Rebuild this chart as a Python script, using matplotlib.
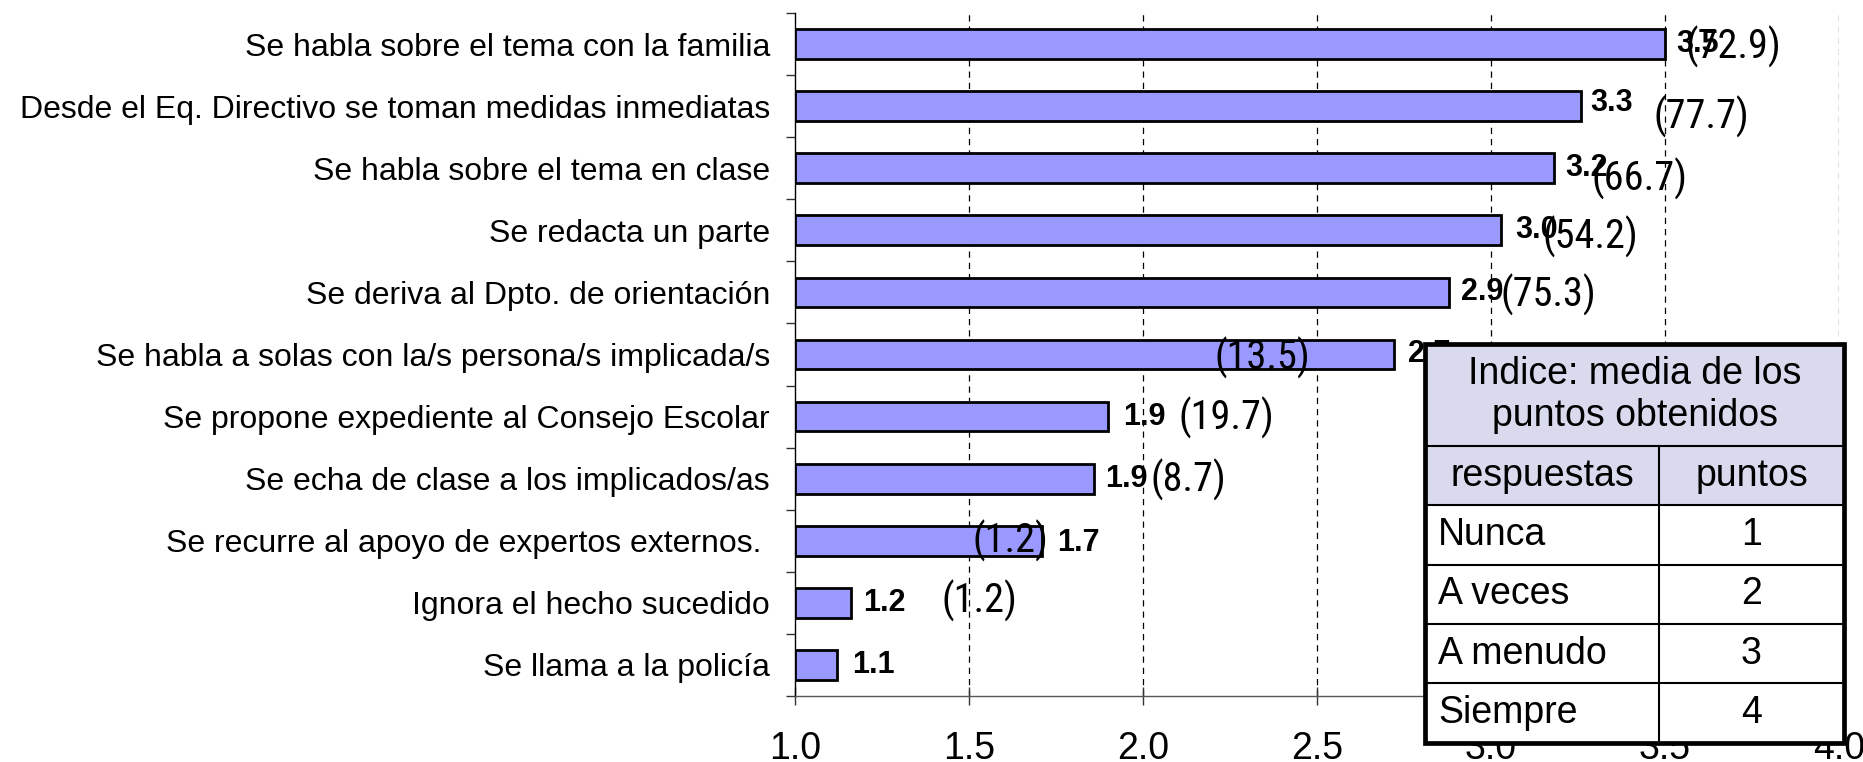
import matplotlib
matplotlib.use("Agg")
import matplotlib.pyplot as plt
from matplotlib import font_manager
from matplotlib.patches import Rectangle
from matplotlib.lines import Line2D

# ---------------- data ----------------
categories = [
    "Se habla sobre el tema con la familia",
    "Desde el Eq. Directivo se toman medidas inmediatas",
    "Se habla sobre el tema en clase",
    "Se redacta un parte",
    "Se deriva al Dpto. de orientación",
    "Se habla a solas con la/s persona/s implicada/s",
    "Se propone expediente al Consejo Escolar",
    "Se echa de clase a los implicados/as",
    "Se recurre al apoyo de expertos externos. ",
    "Ignora el hecho sucedido",
    "Se llama a la policía",
]
index_values = [3.50, 3.26, 3.18, 3.03, 2.88, 2.72, 1.90, 1.86, 1.71, 1.16, 1.12]
percent_values = [72.9, 77.7, 66.7, 54.2, 75.3, 13.5, 19.7, 8.7, 1.2, 1.2, None]
x_ticks = [1.0, 1.5, 2.0, 2.5, 3.0, 3.5, 4.0]

table_title = "Indice: media de los\npuntos obtenidos"
table_columns = ["respuestas", "puntos"]
respuestas = ["Nunca", "A veces", "A menudo", "Siempre"]
puntos = [1, 2, 3, 4]

# ---------------- label placement (layout, not data) ----------------
value_label_x = [3.532, 3.284, 3.213, 3.069, 2.915, 2.761, 1.942, 1.891, 1.754, 1.195, 1.164]
value_label_dy = [0.0, -0.05, 0.0, 0.0, 0.0, 0.0, 0.0, 0.0, 0.03, 0.0, 0.0]
pct_label_x = [3.560, 3.468, 3.290, 3.147, 3.028, 2.205, 2.103, 2.021, 1.509, 1.422, None]
pct_label_dy = [0.05, 0.175, 0.17, 0.10, 0.04, 0.06, 0.02, 0.02, 0.0, -0.03, 0.0]

# ---------------- fonts ----------------
available = {f.name for f in font_manager.fontManager.ttflist}
REG = "Liberation Sans" if "Liberation Sans" in available else "DejaVu Sans"
if "Roboto Condensed" in available:
    NARROW, NARROW_SIZE = "Roboto Condensed", 29
else:
    NARROW, NARROW_SIZE = REG, 27

W, H = 1863, 762
fig = plt.figure(figsize=(W / 100, H / 100), dpi=100)
ax = fig.add_axes([795 / W, 1 - 696 / H, (1839 - 795) / W, (696 - 13) / H])

n = len(categories)
ypos = list(range(n))
x0 = x_ticks[0]
ax.barh(ypos, [v - x0 for v in index_values], left=x0, height=0.48,
        color="#9999FF", edgecolor="black", linewidth=2, zorder=3)

ax.set_xlim(x_ticks[0], x_ticks[-1])
ax.set_ylim(n - 0.5, -0.5)

for xv in x_ticks[1:]:
    ax.axvline(xv, color="black", linewidth=0.9, dashes=(5, 4), zorder=1)

ax.set_xticks(x_ticks)
ax.set_xticklabels([f"{t:.1f}" for t in x_ticks], fontsize=27, family=REG)
ax.tick_params(axis="x", direction="inout", length=13, width=1, color="#333333", pad=19)

ax.set_yticks(ypos)
ax.set_yticklabels(categories, fontsize=23, family=REG)
ax.tick_params(axis="y", which="major", length=0, pad=18)
ax.set_yticks([i - 0.5 for i in range(n + 1)], minor=True)
ax.tick_params(axis="y", which="minor", length=6.5, width=1, color="#333333")

for s in ["top", "right"]:
    ax.spines[s].set_visible(False)
ax.spines["left"].set_color("black")
ax.spines["left"].set_linewidth(1)
ax.spines["bottom"].set_color("#555555")
ax.spines["bottom"].set_linewidth(1)

for i, v in enumerate(index_values):
    ax.text(value_label_x[i], i + value_label_dy[i], f"{v:.1f}", ha="left", va="center",
            fontsize=22, fontweight="bold", family=REG, zorder=5)
    p = percent_values[i]
    if p is not None:
        ax.text(pct_label_x[i], i + pct_label_dy[i], f"({p:.1f})", ha="left", va="center",
                fontsize=NARROW_SIZE, family=NARROW, zorder=5)

# ---------------- legend table (figure coordinates) ----------------
def fx(px):
    return px / W

def fy(py):
    return 1 - py / H

tx0, tx1, tmid = 1425, 1844, 1659
rows_y = [344, 446, 505, 565, 624, 683, 743]
hdr_color = "#DADAEE"

fig.add_artist(Rectangle((fx(tx0), fy(rows_y[2])), fx(tx1) - fx(tx0), fy(rows_y[0]) - fy(rows_y[2]),
                         transform=fig.transFigure, facecolor=hdr_color, edgecolor="none", zorder=10))
fig.add_artist(Rectangle((fx(tx0), fy(rows_y[-1])), fx(tx1) - fx(tx0), fy(rows_y[2]) - fy(rows_y[-1]),
                         transform=fig.transFigure, facecolor="white", edgecolor="none", zorder=10))
for yy in rows_y[1:-1]:
    fig.add_artist(Line2D([fx(tx0), fx(tx1)], [fy(yy), fy(yy)], transform=fig.transFigure,
                          color="black", linewidth=1.5, zorder=11))
fig.add_artist(Line2D([fx(tmid), fx(tmid)], [fy(rows_y[1]), fy(rows_y[-1])], transform=fig.transFigure,
                      color="black", linewidth=1.5, zorder=11))
fig.add_artist(Rectangle((fx(tx0), fy(rows_y[-1])), fx(tx1) - fx(tx0), fy(rows_y[0]) - fy(rows_y[-1]),
                         transform=fig.transFigure, facecolor="none", edgecolor="black",
                         linewidth=3.4, zorder=12))

TS = 27
fig.text(fx((tx0 + tx1) / 2), fy((rows_y[0] + rows_y[1]) / 2), table_title, ha="center", va="center",
         fontsize=TS, family=REG, linespacing=1.2, zorder=13)
fig.text(fx((tx0 + tmid) / 2), fy((rows_y[1] + rows_y[2]) / 2), table_columns[0], ha="center",
         va="center", fontsize=TS, family=REG, zorder=13)
fig.text(fx((tmid + tx1) / 2), fy((rows_y[1] + rows_y[2]) / 2), table_columns[1], ha="center",
         va="center", fontsize=TS, family=REG, zorder=13)
for k, (r, p) in enumerate(zip(respuestas, puntos)):
    yc = (rows_y[2 + k] + rows_y[3 + k]) / 2
    fig.text(fx(1438), fy(yc), r, ha="left", va="center", fontsize=TS, family=REG, zorder=13)
    fig.text(fx((tmid + tx1) / 2), fy(yc), str(p), ha="center", va="center", fontsize=TS,
             family=REG, zorder=13)

fig.savefig("out.png", dpi=100)
